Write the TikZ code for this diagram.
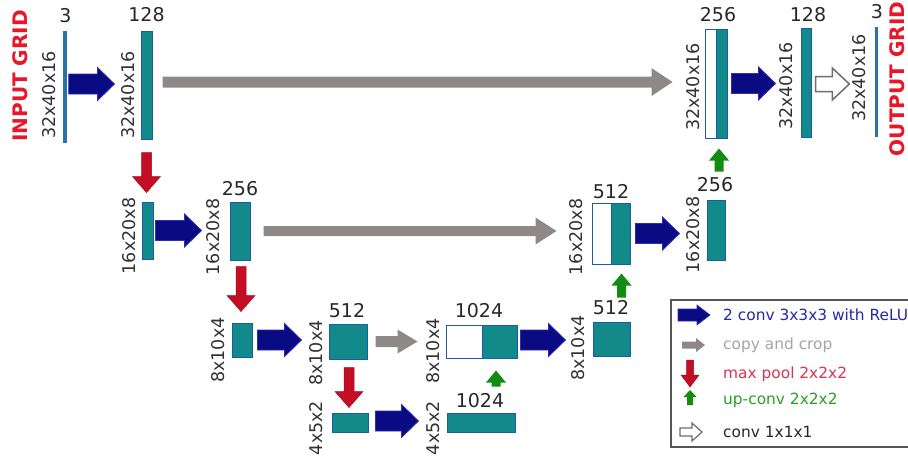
\documentclass[tikz,border=0pt]{standalone}
\usepackage{fontspec}
\setmainfont{DejaVu Sans}
\usetikzlibrary{calc}

\definecolor{tealc}{RGB}{18,138,138}
\definecolor{bordc}{RGB}{30,90,170}
\definecolor{thinc}{RGB}{40,115,165}
\definecolor{navyc}{RGB}{10,10,130}
\definecolor{navyb}{RGB}{45,45,185}
\definecolor{grayc}{RGB}{142,136,136}
\definecolor{redc}{RGB}{196,14,36}
\definecolor{greenc}{RGB}{18,140,18}
\definecolor{wdraw}{RGB}{110,110,110}
\definecolor{titlec}{RGB}{232,22,40}
\definecolor{numc}{RGB}{40,40,40}
\definecolor{labc}{RGB}{50,50,50}
\definecolor{lgblue}{RGB}{40,40,170}
\definecolor{lggray}{RGB}{165,165,165}
\definecolor{lgred}{RGB}{210,55,80}
\definecolor{lggreen}{RGB}{40,160,40}
\definecolor{lgblack}{RGB}{40,40,40}
\definecolor{boxc}{RGB}{85,85,85}

\tikzset{
  asa/.store in=\Asa, asb/.store in=\Asb, adx/.store in=\Adx, ady/.store in=\Ady,
  abh/.store in=\Abh, ahh/.store in=\Ahh, ahl/.store in=\Ahl,
  asa=0pt, asb=0pt, adx=0pt, ady=0pt, abh=5pt, ahh=10pt, ahl=10pt,
  rightarr/.style={to path={let \p1=(\tikztostart), \p2=(\tikztotarget) in
    (\x1+\Asa, \y1+\Ady+\Abh) -- (\x2-\Asb-\Ahl, \y1+\Ady+\Abh) -- (\x2-\Asb-\Ahl, \y1+\Ady+\Ahh)
    -- (\x2-\Asb, \y1+\Ady) -- (\x2-\Asb-\Ahl, \y1+\Ady-\Ahh) -- (\x2-\Asb-\Ahl, \y1+\Ady-\Abh)
    -- (\x1+\Asa, \y1+\Ady-\Abh) -- cycle}},
  downarr/.style={to path={let \p1=(\tikztostart), \p2=(\tikztotarget) in
    (\x1+\Adx-\Abh, \y1-\Asa) -- (\x1+\Adx-\Abh, \y2+\Asb+\Ahl) -- (\x1+\Adx-\Ahh, \y2+\Asb+\Ahl)
    -- (\x1+\Adx, \y2+\Asb) -- (\x1+\Adx+\Ahh, \y2+\Asb+\Ahl) -- (\x1+\Adx+\Abh, \y2+\Asb+\Ahl)
    -- (\x1+\Adx+\Abh, \y1-\Asa) -- cycle}},
  uparr/.style={to path={let \p1=(\tikztostart), \p2=(\tikztotarget) in
    (\x1+\Adx-\Abh, \y1+\Asa) -- (\x1+\Adx-\Abh, \y2-\Asb-\Ahl) -- (\x1+\Adx-\Ahh, \y2-\Asb-\Ahl)
    -- (\x1+\Adx, \y2-\Asb) -- (\x1+\Adx+\Ahh, \y2-\Asb-\Ahl) -- (\x1+\Adx+\Abh, \y2-\Asb-\Ahl)
    -- (\x1+\Adx+\Abh, \y1+\Asa) -- cycle}},
  bluearr/.style={rightarr, fill=navyc, draw=navyb, line width=0.8pt, abh=10pt, ahh=16.5pt, ahl=17pt},
  grayarr/.style={rightarr, fill=grayc, abh=5.5pt, ahh=14pt, ahl=21pt},
  redarr/.style={downarr, fill=redc, draw=redc!80!black, line width=0.5pt, abh=5pt, ahh=14pt, ahl=16pt},
  greenarr/.style={uparr, fill=greenc, abh=4.5pt, ahh=10pt, ahl=12pt},
  whitearr/.style={rightarr, fill=white, draw=wdraw, line width=1.5pt, abh=7.5pt, ahh=16pt, ahl=17pt},
  bar/.style={rectangle, inner sep=0pt, fill=tealc, draw=bordc, line width=1pt},
  wbar/.style={rectangle, inner sep=0pt, fill=white, draw=bordc, line width=1pt},
  thin/.style={rectangle, inner sep=0pt, fill=thinc, draw=none},
  num/.style={inner sep=0pt, text=numc, font=\fontsize{19}{19}\selectfont},
  lab/.style={inner sep=0pt, text=labc, rotate=90, font=\fontsize{17.5}{17.5}\selectfont},
  title/.style={inner sep=0pt, text=titlec, rotate=90, font=\fontsize{20}{20}\selectfont\bfseries},
  legtext/.style={inner sep=0pt, anchor=west, font=\fontsize{15.4}{15.4}\selectfont},
  legbox/.style={rectangle, inner sep=0pt, draw=boxc, line width=1.6pt, fill=white},
}

\newcommand\UNbar[6][bar]{\node[#1, minimum width={#4-#3}, minimum height={#6-#5}] (#2) at ({(#3+#4)/2},{(#5+#6)/2}) {};}

\begin{document}
\begin{tikzpicture}[x=1pt, y=-1pt]
\useasboundingbox (0,0) rectangle (908,456);
\fill[white] (0,0) rectangle (908,456);

% titles
\node[title] (tin) at (20.5,76) {INPUT GRID};
\node[title] (tout) at (897,79) {OUTPUT GRID};

% bars row 1
\UNbar[thin]{in3}{63}{66.5}{31}{143}
\UNbar{c128}{141}{152}{31}{139}
\UNbar[wbar]{cat256w}{705}{716}{29}{138}
\UNbar{cat256t}{716}{727}{29}{138}
\UNbar{c128b}{801}{811}{28}{137}
\UNbar[thin]{out3}{874.5}{878}{27}{137}
% row 2
\UNbar{d1}{142}{153}{202}{259}
\UNbar{d256}{230}{250}{202}{260}
\UNbar[wbar]{u512w}{592}{611}{203}{264}
\UNbar{u512t}{611}{630}{203}{264}
\UNbar{u256}{707}{725}{200}{260}
% row 3
\UNbar{e1}{232}{252}{323}{357}
\UNbar{e512}{329}{367}{324}{359}
\UNbar[wbar]{u1024w}{446}{482}{325}{358}
\UNbar{u1024t}{482}{517}{325}{358}
\UNbar{u512b}{593}{630}{322}{356}
% row 4
\UNbar{f1}{332}{368}{413}{432}
\UNbar{f1024}{447}{515}{413}{432}

% channel numbers
\node[num] (n3a) at (65.5,16) {3};
\node[num] (n128a) at (146.5,15) {128};
\node[num] (n256a) at (718,15) {256};
\node[num] (n128b) at (808,15) {128};
\node[num] (n3b) at (877,12) {3};
\node[num] (n256b) at (240,188.5) {256};
\node[num] (n512a) at (611,192) {512};
\node[num] (n256c) at (715,185) {256};
\node[num] (n512b) at (347,311) {512};
\node[num] (n1024a) at (479,311) {1024};
\node[num] (n512c) at (611,308) {512};
\node[num] (n1024b) at (480,401) {1024};

% size labels
\node[lab] (s1) at (49,95) {32x40x16};
\node[lab] (s2) at (128,95) {32x40x16};
\node[lab] (s3) at (693,87) {32x40x16};
\node[lab] (s4) at (786,86) {32x40x16};
\node[lab] (s5) at (859,78) {32x40x16};
\node[lab] (s6) at (129,236) {16x20x8};
\node[lab] (s7) at (213,237) {16x20x8};
\node[lab] (s8) at (576,237) {16x20x8};
\node[lab] (s9) at (693,235) {16x20x8};
\node[lab] (s10) at (218,350) {8x10x4};
\node[lab] (s11) at (316,353) {8x10x4};
\node[lab] (s12) at (433,351) {8x10x4};
\node[lab] (s13) at (578,348) {8x10x4};
\node[lab] (s14) at (316,428) {4x5x2};
\node[lab] (s15) at (433,428) {4x5x2};

% arrows row 1
\path[bluearr, asa=2pt, asb=26pt, ady=3pt] (in3.east) to (c128.west);
\path[grayarr, asa=10pt, asb=32pt, ady=3pt] (c128.east) to (cat256w.west);
\path[bluearr, asa=4pt, asb=25pt] (cat256t.east) to (c128b.west);
\path[whitearr, asa=4pt, asb=25pt, ady=-1.5pt] (c128b.east) to (out3.west);
% row 2
\path[redarr, asa=13pt, asb=9pt] (c128.south) to (d1.north);
\path[bluearr, asa=2pt, asb=28pt] (d1.east) to (d256.west);
\path[grayarr, asa=13pt, asb=35pt, abh=5pt, ahh=13.5pt] (d256.east) to (u512w.west);
\path[bluearr, asa=5pt, asb=27pt] (u512t.east) to (u256.west);
\path[greenarr, asa=28pt, asb=10pt, adx=3pt] (u256.north) to (cat256t.south);
% row 3
\path[redarr, asa=6pt, asb=11pt, adx=1pt] (d256.south) to (e1.north);
\path[bluearr, asa=5pt, asb=27pt] (e1.east) to (e512.west);
\path[grayarr, asa=8pt, asb=28pt, abh=5.5pt, ahh=12pt, ahl=20pt] (e512.east) to (u1024w.west);
\path[bluearr, asa=3pt, asb=27pt, ady=1.5pt] (u1024t.east) to (u512b.west);
\path[greenarr, asa=24pt, asb=9pt, adx=10pt] (u512b.north) to (u512t.south);
% row 4
\path[redarr, asa=8pt, asb=5pt, adx=1pt] (e512.south) to (f1.north);
\path[bluearr, asa=7pt, asb=28pt, ady=1.5pt] (f1.east) to (f1024.west);
\path[greenarr, asa=26pt, asb=12pt, adx=15pt] (f1024.north) to (u1024t.south);

% legend
\node[legbox, minimum width=244pt, minimum height=147pt] (legend) at (793,373.5) {};
\coordinate (la1) at (678,315); \coordinate (lb1) at (710,315);
\coordinate (la2) at (682,345); \coordinate (lb2) at (705,345);
\coordinate (la3) at (690,360); \coordinate (lb3) at (690,387);
\coordinate (la4) at (690,405); \coordinate (lb4) at (690,390);
\coordinate (la5) at (680,432); \coordinate (lb5) at (702,432);
\path[bluearr, abh=6pt, ahh=10pt, ahl=13pt, line width=0.6pt] (la1) to (lb1);
\path[grayarr, abh=3.5pt, ahh=7pt, ahl=9pt] (la2) to (lb2);
\path[redarr, abh=3.5pt, ahh=9pt, ahl=12pt] (la3) to (lb3);
\path[greenarr, abh=3pt, ahh=6.5pt, ahl=7pt] (la4) to (lb4);
\path[whitearr, abh=4pt, ahh=9pt, ahl=10pt, line width=1.2pt] (la5) to (lb5);
\node[legtext, text=lgblue] (t1) at (723,315) {2 conv 3x3x3 with ReLU};
\node[legtext, text=lggray] (t2) at (723,345) {copy and crop};
\node[legtext, text=lgred] (t3) at (723,374) {max pool 2x2x2};
\node[legtext, text=lggreen] (t4) at (723,400) {up-conv 2x2x2};
\node[legtext, text=lgblack] (t5) at (723,432) {conv 1x1x1};
\end{tikzpicture}
\end{document}
